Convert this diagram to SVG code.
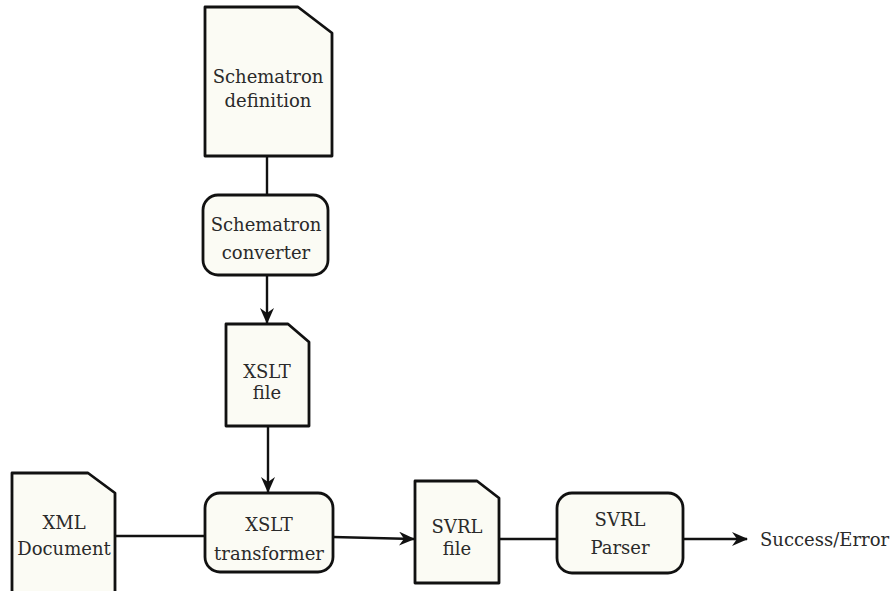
<svg xmlns="http://www.w3.org/2000/svg" width="891" height="591" viewBox="0 0 891 591">
  <style>
    .shape { fill: #fbfbf4; stroke: #111; stroke-width: 2.8; stroke-linejoin: round; }
    .edge { fill: none; stroke: #111; stroke-width: 2.4; }
    .label { font-family: "DejaVu Serif", "Liberation Serif", serif; font-size: 18px; fill: #2a2a2a; text-anchor: middle; }
    .out { font-family: "DejaVu Serif", "Liberation Serif", serif; font-size: 18px; fill: #2a2a2a; }
  </style>
  <defs>
    <marker id="dart" viewBox="0 0 16 14" refX="15" refY="7" markerWidth="16" markerHeight="14" markerUnits="userSpaceOnUse" orient="auto">
      <path d="M0,0 L16,7 L0,14 L5,7 Z" fill="#111"/>
    </marker>
  </defs>
  <rect width="891" height="591" fill="#ffffff"/>

  <g id="connectors">
    <path class="edge" d="M267,157 V195"/>
    <path class="edge" d="M267,275 V323" marker-end="url(#dart)"/>
    <path class="edge" d="M268,426 V492" marker-end="url(#dart)"/>
    <path class="edge" d="M115,536 H205"/>
    <path class="edge" d="M333,537 L414,539" marker-end="url(#dart)"/>
    <path class="edge" d="M499,539 H557"/>
    <path class="edge" d="M683,539 H747" marker-end="url(#dart)"/>
  </g>

  <g id="schematron-definition">
    <path class="shape" d="M205,7 H298 L332,33 V156 H205 Z"/>
    <text class="label" x="268" y="83">Schematron</text>
    <text class="label" x="268" y="107">definition</text>
  </g>

  <g id="schematron-converter">
    <rect class="shape" x="203" y="195" width="125" height="80" rx="15"/>
    <text class="label" x="266" y="231">Schematron</text>
    <text class="label" x="266" y="259">converter</text>
  </g>

  <g id="xslt-file">
    <path class="shape" d="M226,324 H288 L309,342 V426 H226 Z"/>
    <text class="label" x="267" y="378">XSLT</text>
    <text class="label" x="267" y="399">file</text>
  </g>

  <g id="xml-document">
    <path class="shape" d="M12,473 H88 L115,493 V600 H12 Z"/>
    <text class="label" x="64" y="529">XML</text>
    <text class="label" x="64" y="555">Document</text>
  </g>

  <g id="xslt-transformer">
    <rect class="shape" x="205" y="493" width="128" height="79" rx="15"/>
    <text class="label" x="269" y="531">XSLT</text>
    <text class="label" x="269" y="560">transformer</text>
  </g>

  <g id="svrl-file">
    <path class="shape" d="M415,481 H477 L499,498 V583 H415 Z"/>
    <text class="label" x="457" y="533">SVRL</text>
    <text class="label" x="457" y="555">file</text>
  </g>

  <g id="svrl-parser">
    <rect class="shape" x="557" y="493" width="126" height="80" rx="15"/>
    <text class="label" x="620" y="526">SVRL</text>
    <text class="label" x="620" y="554">Parser</text>
  </g>

  <text class="out" x="760" y="546">Success/Error</text>
</svg>
